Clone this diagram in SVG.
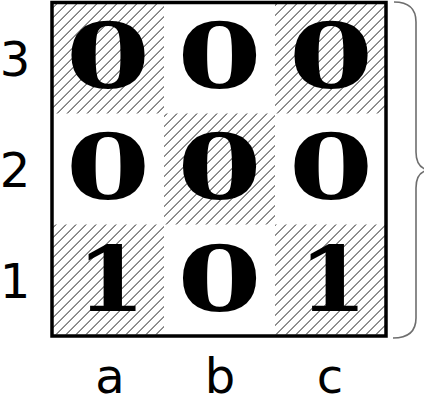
<svg xmlns="http://www.w3.org/2000/svg" width="424" height="401" viewBox="0 0 424 401">
<style>
.hatch{fill:url(#h);stroke:none}
.digit{font-family:"DejaVu Serif",serif;font-weight:bold;font-size:90px;fill:#000;text-anchor:middle}
.lab{font-family:"DejaVu Sans",sans-serif;font-size:48px;fill:#000;text-anchor:middle}
.brace{fill:none;stroke:#6e6e6e;stroke-width:1.6}
</style>
<defs>
<pattern id="h" patternUnits="userSpaceOnUse" width="7.07" height="7.07" patternTransform="rotate(45)">
<line x1="0" y1="0" x2="0" y2="7.07" stroke="#000" stroke-width="1.3"/>
</pattern>
</defs>
<rect width="424" height="401" fill="#fff"/>
<g id="cell-a3"><rect class="hatch" x="53" y="3.5" width="111" height="110"/><text class="digit" transform="translate(108,88) scale(1.35,1)">0</text></g>
<g id="cell-b3"><text class="digit" transform="translate(219.5,88) scale(1.35,1)">0</text></g>
<g id="cell-c3"><rect class="hatch" x="275" y="3.5" width="110" height="110"/><text class="digit" transform="translate(331,88) scale(1.35,1)">0</text></g>
<g id="cell-a2"><text class="digit" transform="translate(108,199) scale(1.35,1)">0</text></g>
<g id="cell-b2"><rect class="hatch" x="164" y="113.5" width="111" height="111"/><text class="digit" transform="translate(219.5,199) scale(1.35,1)">0</text></g>
<g id="cell-c2"><text class="digit" transform="translate(331,199) scale(1.35,1)">0</text></g>
<g id="cell-a1"><rect class="hatch" x="53" y="224.5" width="111" height="110"/><text class="digit" transform="translate(111,311) scale(1.1,1)">1</text></g>
<g id="cell-b1"><text class="digit" transform="translate(219.5,311) scale(1.35,1)">0</text></g>
<g id="cell-c1"><rect class="hatch" x="275" y="224.5" width="110" height="110"/><text class="digit" transform="translate(333,311) scale(1.1,1)">1</text></g>
<g id="board"><rect x="52" y="2.5" width="334" height="333.5" fill="none" stroke="#000" stroke-width="3.5"/></g>
<g id="row-labels">
<text class="lab" x="15" y="76">3</text>
<text class="lab" x="15" y="187">2</text>
<text class="lab" x="15" y="298">1</text>
</g>
<g id="col-labels">
<text class="lab" x="110" y="393">a</text>
<text class="lab" x="220" y="393">b</text>
<text class="lab" x="330" y="393">c</text>
</g>
<g id="connectors">
<path class="brace" d="M 394 2 Q 416 2 416 22 L 416 152 Q 416 169 430 170 Q 416 171 416 188 L 416 318 Q 416 338 393 338"/>
</g>
</svg>
